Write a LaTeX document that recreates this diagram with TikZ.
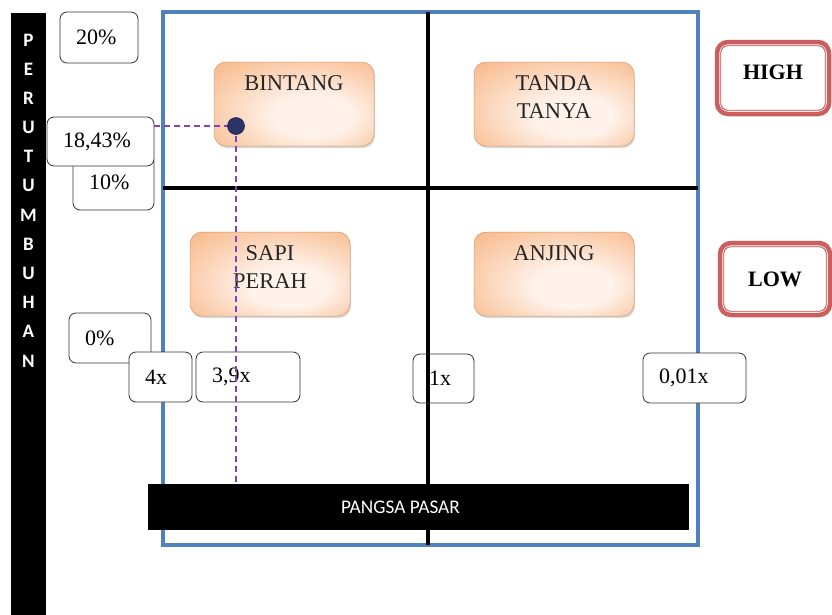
\documentclass[tikz,border=0pt]{standalone}
\usepackage{fontspec}
\setmainfont{Liberation Serif}
\newfontfamily\calibfont{Carlito}
\usetikzlibrary{shadows}
\definecolor{gridblue}{HTML}{4F81BD}
\definecolor{dotnavy}{HTML}{2B3467}
\definecolor{dashpurple}{HTML}{7F45B8}
\definecolor{orangeout}{HTML}{F8B482}
\definecolor{orangein}{HTML}{FEF2EA}
\definecolor{hlred}{HTML}{CC5E5E}
\definecolor{hlinner}{HTML}{B84A4A}
\pgfdeclareradialshading{quadshade}{\pgfpoint{8bp}{-10bp}}{color(0bp)=(orangein); color(12bp)=(orangein); color(40bp)=(orangeout); color(50bp)=(orangeout)}
\tikzset{
  divider/.style={black, line width=4pt},
  quad/.style={rounded corners=12pt, minimum width=160pt, minimum height=84pt, inner sep=0pt,
    shading=quadshade, draw=orangeout!85!black, line width=0.5pt,
    drop shadow={opacity=0.3, shadow xshift=1pt, shadow yshift=-2pt}},
  qlabel/.style={anchor=north, yshift=-10pt, align=center, text=black!85,
    font=\fontsize{22.5}{28.5}\selectfont},
  lbl/.style={draw=black!80, line width=0.8pt, rounded corners=7pt, fill=white,
    inner xsep=16pt, inner ysep=0pt, align=left, font=\fontsize{22}{24}\selectfont},
  hl/.style={draw=hlred, line width=4.5pt, rounded corners=11pt, fill=white, inner sep=0pt},
  hltext/.style={font=\fontsize{22}{24}\selectfont\bfseries},
  hlline/.style={hlinner, line width=0.9pt, rounded corners=7pt},
  vletter/.style={text=white, font=\calibfont\fontsize{19}{20}\selectfont\bfseries, inner sep=0pt},
  dashline/.style={dashpurple, line width=2.4pt, dash pattern=on 6pt off 4pt},
  dot/.style={circle, fill=dotnavy, draw=dotnavy!70!black, line width=0.6pt, minimum size=17pt, inner sep=0pt}
}
\begin{document}
\begin{tikzpicture}[x=1pt,y=-1pt]
\useasboundingbox[fill=white] (0,0) rectangle (832,614);
\clip (0,0) rectangle (832,614);
% left vertical bar
\node[fill=black, minimum width=35pt, minimum height=620pt, inner sep=0pt] (growbar) at (28.5,323) {};
\foreach \l [count=\i] in {P,E,R,U,T,U,M,B,U,H,A,N}
  \node[vletter] (v\i) at (28.5,{40+29.18*(\i-1)}) {\l};
% frame and quadrants
\node[draw=gridblue, line width=4pt, minimum width=535pt, minimum height=533pt, inner sep=0pt, outer sep=0pt] (frame) at (430.5,278.5) {};
\coordinate (mid) at (428,188);
\draw[divider] (frame.north -| mid) -- (frame.south -| mid);
\draw[divider] (frame.west |- mid) -- (frame.east |- mid);
% quadrant boxes
\node[quad, label={[qlabel]north:BINTANG}] (bintang) at (294,104) {};
\node[quad, label={[qlabel]north:TANDA\\TANYA}] (tanda) at (554,104) {};
\node[quad, label={[qlabel]north:SAPI\\PERAH}] (sapi) at (270,274) {};
\node[quad, label={[qlabel]north:ANJING}] (anjing) at (554,274) {};
% HIGH / LOW
\node[hl, minimum width=112pt, minimum height=72pt, label={[hltext, yshift=6pt]center:HIGH}] (high) at (773,78) {};
\draw[hlline] ([shift={(6,6)}]high.north west) rectangle ([shift={(-6,-6)}]high.south east);
\node[hl, minimum width=110pt, minimum height=72pt, label={[hltext]center:LOW}] (low) at (775,279) {};
\draw[hlline] ([shift={(6,6)}]low.north west) rectangle ([shift={(-6,-6)}]low.south east);
% value boxes
\node[lbl, text width=46pt, minimum height=51pt] (p20) at (99,37.5) {20\%};
\node[lbl, text width=49pt, minimum height=55pt] (p10) at (113.5,182.5) {10\%};
\node[lbl, text width=75pt, minimum height=49pt] (p1843) at (100.5,141.5) {18,43\%};
\node[lbl, text width=50pt, minimum height=50pt] (p0) at (110,338) {0\%};
\node[lbl, text width=31pt, minimum height=50pt] (x4) at (160.5,377) {4x};
\node[lbl, text width=72pt, minimum height=50pt] (x39) at (248,377) {3,9x};
\node[lbl, text width=71pt, minimum height=50pt] (x001) at (694.5,378) {0,01x};
% market share bar
\node[fill=black, minimum width=541pt, minimum height=46pt, inner sep=0pt,
  label={[text=white, font=\calibfont\fontsize{19.3}{20}\selectfont, xshift=-18pt]center:PANGSA PASAR}] (pasar) at (418.5,507) {};
\node[lbl, text width=29pt, minimum height=49pt] (x1) at (443.5,378.5) {1x};
\draw[divider] (x1.north -| mid) -- (x1.south -| mid);
% position marker
\coordinate (ptc) at (236,126);
\draw[dashline] (p1843.east |- ptc) -- (ptc);
\draw[dashline] (ptc) -- (ptc |- pasar.north);
\node[dot] (pt) at (ptc) {};
\end{tikzpicture}
\end{document}
